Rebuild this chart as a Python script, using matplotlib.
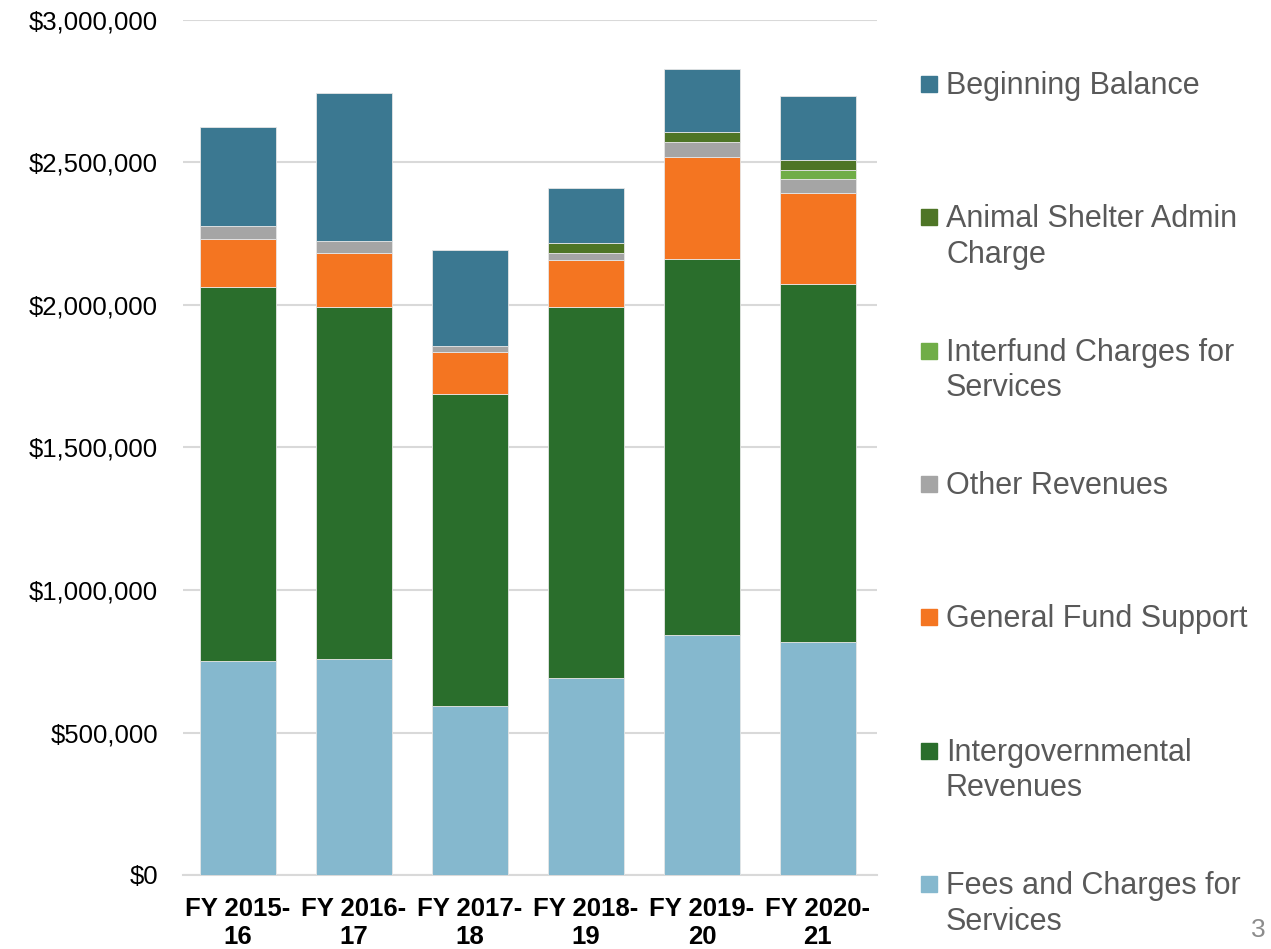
import numpy as np
import matplotlib
matplotlib.use('Agg')
import matplotlib.pyplot as plt
from matplotlib.patches import Rectangle
from matplotlib.ticker import FuncFormatter

plt.rcParams['font.family'] = ['Liberation Sans', 'DejaVu Sans']

years = ['FY 2015-\n16', 'FY 2016-\n17', 'FY 2017-\n18', 'FY 2018-\n19', 'FY 2019-\n20', 'FY 2020-\n21']

# stacked bottom -> top
fees = [750000, 759000, 593000, 692000, 841000, 819000]
intergov = [1313000, 1235000, 1094000, 1300000, 1319000, 1256000]
general_fund = [170000, 190000, 149000, 165000, 360000, 319000]
other_rev = [43000, 41000, 19000, 24000, 51000, 48000]
interfund = [0, 0, 0, 0, 0, 33000]
animal_admin = [0, 0, 0, 35000, 37000, 35000]
beginning = [347000, 518000, 337000, 195000, 219000, 222000]

series = [fees, intergov, general_fund, other_rev, interfund, animal_admin, beginning]
labels = ['Fees and Charges for\nServices', 'Intergovernmental\nRevenues', 'General Fund Support',
          'Other Revenues', 'Interfund Charges for\nServices', 'Animal Shelter Admin\nCharge',
          'Beginning Balance']
colors = ['#85B8CE', '#2A6E2C', '#F47521', '#A5A5A5', '#70AD47', '#4E7526', '#3B7891']

W, H = 1271, 949
fig = plt.figure(figsize=(W / 100, H / 100), dpi=100)
ax = fig.add_axes([183 / W, 1 - 875 / H, (877 - 183) / W, (875 - 20) / H])

x = np.arange(len(years))
bottom = np.zeros(len(years))
for vals, col in zip(series, colors):
    ax.bar(x, vals, 0.655, bottom=bottom, color=col, edgecolor='#e6e6e6', linewidth=0.6, zorder=3)
    bottom += np.array(vals)

ax.set_ylim(0, 3000000)
ax.set_xlim(-0.474, 5.51)
ax.yaxis.set_major_locator(plt.MultipleLocator(500000))
ax.yaxis.set_major_formatter(FuncFormatter(lambda v, p: '${:,.0f}'.format(v)))
ax.grid(axis='y', color='#D9D9D9', linewidth=1.5, zorder=0)
for s in ['top', 'right', 'left']:
    ax.spines[s].set_visible(False)
ax.spines['bottom'].set_color('#D9D9D9')
ax.spines['bottom'].set_linewidth(1.5)
ax.tick_params(axis='y', length=0, pad=18, labelsize=18.5, labelcolor='black')
ax.tick_params(axis='x', length=0, pad=15.5, labelsize=18.5, labelcolor='black')
ax.set_xticks(x)
ax.set_xticklabels(years, fontweight='bold', linespacing=1.24)

# legend, drawn by hand: first lines evenly spaced, top entry = top series
for i, (lab, col) in enumerate(zip(labels[::-1], colors[::-1])):
    base = 93 + i * 133.3
    fig.patches.append(Rectangle((921 / W, 1 - (base - 1) / H), 16 / W, 16 / H,
                                 transform=fig.transFigure, color=col, figure=fig))
    fig.text(946 / W, 1 - (base - 22) / H, lab, fontsize=22, color='#595959',
             va='top', ha='left', linespacing=1.25)

fig.text(1266 / W, 1 - 930 / H, '3', fontsize=19, color='#8c8c8c', ha='right', va='center')

fig.savefig('out.png', dpi=100)
